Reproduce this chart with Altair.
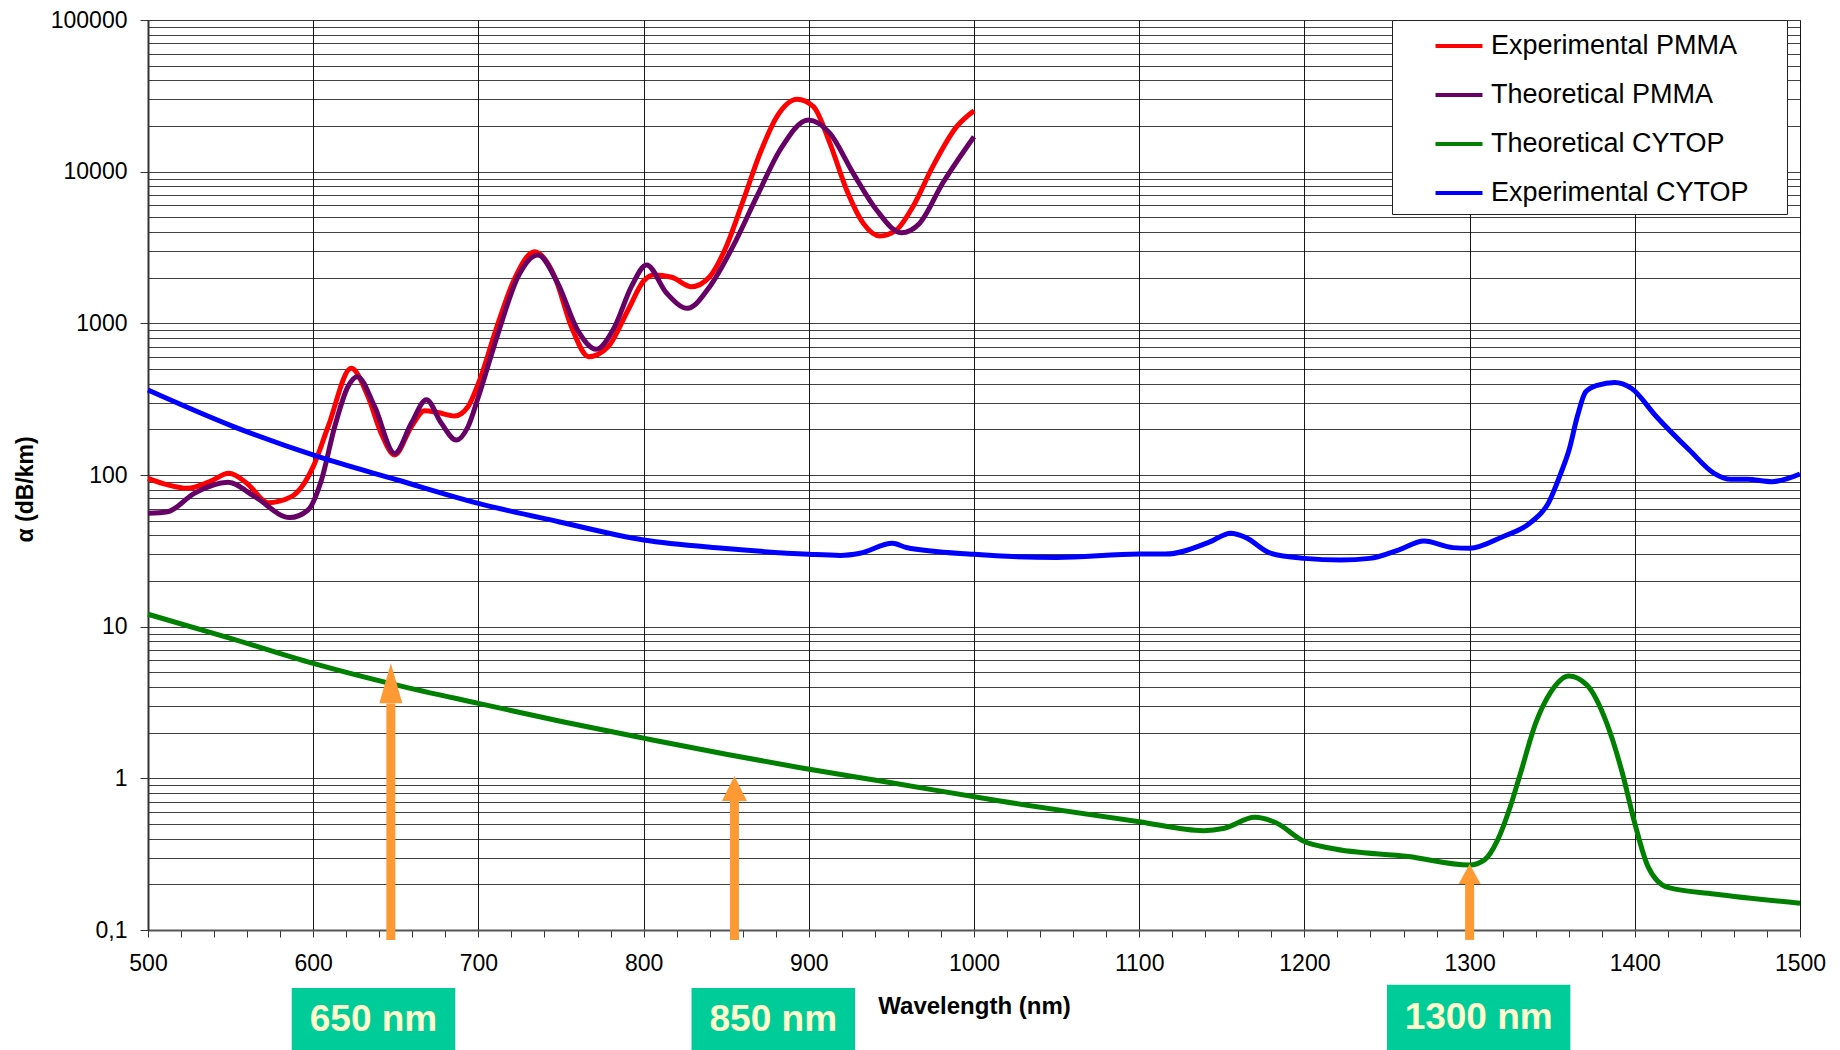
import altair as alt
import pandas as pd

# ---- attenuation curves (wavelength in nm, attenuation in dB/km) ----
exp_pmma_nm = [500, 512, 524, 537, 549, 560, 572.6, 586.8, 600, 609, 623, 633.2, 641.2, 649.3,
               659.4, 667.5, 675.5, 685.6, 693.7, 700, 711.9, 722, 734, 746.2, 756.3, 766.8,
               778.5, 790.6, 800, 806, 817, 829, 840, 850, 860.4, 870.5, 880.6, 893, 902.8,
               912.8, 922.9, 933, 943, 953, 963, 975, 989.5, 1000]
exp_pmma_db = [95, 86, 81.7, 90, 102.6, 88, 65.7, 72, 113.5, 208, 505, 328, 188, 135.5,
               208, 265, 258, 245, 282, 402, 1000, 1982, 2965, 2030, 950, 603,
               701, 1225, 1900, 2084, 2012, 1745, 2030, 3203, 6506, 13220, 23000, 30000, 26850,
               15380, 7570, 4560, 3767, 4124, 5875, 10790, 19800, 25200]

theo_pmma_nm = [500, 512, 528, 548.4, 564.6, 585.8, 596.9, 605, 613, 621, 626.7, 637.2, 649.3,
                659.4, 668.5, 677.6, 686.6, 693.7, 700, 711.9, 724, 736, 748, 760, 771.4,
                782.5, 792.6, 801.8, 814, 826.5, 840, 854, 868.5, 882.6, 899.7, 912.8, 926.9,
                941, 956, 967, 981, 1000]
theo_pmma_db = [55.9, 57.3, 75.7, 89.5, 72, 52.4, 58.8, 92.7, 208, 382, 445, 282, 139,
                219, 313, 219, 170, 208, 328, 859, 2030, 2825, 1837, 904, 674,
                950, 1745, 2424, 1578, 1256, 1745, 3203, 6840, 13900, 21920, 17900, 9750,
                5590, 3960, 4560, 8380, 17000]

theo_cytop_nm = [500, 550, 600, 650.7, 700, 751, 800, 850, 894, 950, 1015.7, 1100, 1139, 1151.6,
                 1170, 1182.5, 1200, 1216, 1263, 1300, 1309, 1317, 1324.6, 1330.8, 1340, 1349.3,
                 1360, 1371, 1383, 1392.5, 1400, 1408, 1420, 1448, 1500]
theo_cytop_db = [12.07, 8.38, 5.73, 4.12, 3.12, 2.36, 1.84, 1.44, 1.18, 0.935, 0.709, 0.518, 0.452,
                 0.469, 0.553, 0.511, 0.383, 0.346, 0.305, 0.268, 0.29, 0.393, 0.65, 1.08, 2.31,
                 3.73, 4.73, 4.12, 2.31, 1.08, 0.505, 0.262, 0.191, 0.173, 0.15]

exp_cytop_nm = [500, 551, 603, 651, 700, 748.5, 800, 848, 900, 919, 931, 950.6, 959, 1000, 1050,
                1100, 1116, 1141.7, 1155.5, 1164.3, 1179.4, 1200, 1222, 1239.6, 1257.3, 1272.3,
                1289.9, 1300, 1320, 1337.6, 1347.6, 1355.2, 1360.2, 1365.2, 1370.3, 1377.8,
                1387.8, 1397.9, 1413, 1433, 1448, 1458, 1468, 1483, 1500]
exp_cytop_db = [363, 210, 132, 92.7, 65, 49.2, 37.3, 32.9, 30, 29.5, 30.5, 35.5, 33.3, 30, 28.6,
                30.1, 30.1, 35.8, 41.3, 38.8, 30.5, 28.2, 27.5, 28.2, 32.1, 36.7,
                33.2, 32.9, 39.2, 49.2, 65, 102.6, 146, 243, 354, 392,
                408, 373, 243, 146, 102.6, 93.7, 93.7, 90.4, 101.6]

SERIES = ["Experimental PMMA", "Theoretical PMMA", "Theoretical CYTOP", "Experimental CYTOP"]
COLORS = ["#FF0000", "#660066", "#008000", "#0000FF"]
WIDTHS = [5, 5, 5, 5]

# ---- transmission windows marked with arrows ----
arrow_nm = [647, 855, 1300]
arrow_tip = [5.73, 1.035, 0.272]
arrow_base = [3.12, 0.713, 0.201]
arrow_foot = [0.086, 0.086, 0.086]

window_label = ["650 nm", "850 nm", "1300 nm"]
window_lo = [587, 829, 1250]
window_hi = [686, 928, 1361]
window_top = [0.0415, 0.0415, 0.0436]
window_bottom = [0.0150, 0.0150, 0.0150]
window_text_y = [0.0255, 0.0255, 0.0262]

ORANGE = "#FF9933"
FONT = "Liberation Sans"

curves = pd.concat(
    [pd.DataFrame({"nm": nm, "db": db, "series": name})
     for name, nm, db in zip(SERIES,
                             [exp_pmma_nm, theo_pmma_nm, theo_cytop_nm, exp_cytop_nm],
                             [exp_pmma_db, theo_pmma_db, theo_cytop_db, exp_cytop_db])],
    ignore_index=True,
)
arrows = pd.DataFrame({"nm": arrow_nm, "tip": arrow_tip, "base": arrow_base, "foot": arrow_foot})
windows = pd.DataFrame({"label": window_label, "lo": window_lo, "hi": window_hi,
                        "top": window_top, "bottom": window_bottom, "ty": window_text_y})

# ---- scales and axes ----
x_scale = alt.Scale(domain=[500, 1500], nice=False, zero=False)
y_scale = alt.Scale(type="log", domain=[0.1, 100000], nice=False)

x_ticks = list(range(500, 1501, 20))
y_ticks = [m * 10.0 ** k for k in range(-1, 5) for m in range(1, 10)] + [100000.0]
is_decade = "abs(log(datum.value) / LN10 - round(log(datum.value) / LN10)) < 1e-6"

x_axis = alt.Axis(
    title="Wavelength (nm)", values=x_ticks,
    labelExpr="datum.value % 100 === 0 ? datum.label : ''",
    format="d", labelOverlap=False, labelFlush=False,
    labelFont=FONT, labelFontSize=23, labelColor="#000", labelPadding=15,
    tickSize=7, tickColor="#333", tickWidth=1,
    grid=True, gridColor="#000", gridWidth=1,
    gridOpacity={"condition": {"test": "datum.value % 100 === 0", "value": 0.9}, "value": 0},
    domainColor="#555", domainWidth=2,
    titleFont=FONT, titleFontSize=24, titleFontWeight="bold", titleColor="#000",
    titleX=826, titleY=76, titleBaseline="middle", titleAlign="center",
)
y_axis = alt.Axis(
    title="α (dB/km)", values=y_ticks,
    labelExpr=f"({is_decade}) ? (datum.value < 1 ? '0,1' : format(datum.value, 'd')) : ''",
    labelOverlap=False, labelFlush=False,
    labelFont=FONT, labelFontSize=23, labelColor="#000", labelPadding=13,
    tickSize=8, tickColor="#333", tickWidth=1,
    tickOpacity={"condition": {"test": is_decade, "value": 1}, "value": 0},
    grid=True, gridColor="#000", gridWidth=1, gridOpacity=0.75,
    domainColor="#333", domainWidth=2,
    titleFont=FONT, titleFontSize=23, titleFontWeight="bold", titleColor="#000",
    titleX=-123, titleY=469, titleAngle=270, titleBaseline="middle", titleAlign="center",
)


def X(field):
    return alt.X(field, type="quantitative", scale=x_scale, axis=x_axis)


def Y(field):
    return alt.Y(field, type="quantitative", scale=y_scale, axis=y_axis)


# legend swatch: a flat line longer than the nominal symbol box;
# a blank right-hand title gives the legend frame its right margin
legend = alt.Legend(
    title="\u00a0", titleOrient="right", titlePadding=30, titleFontSize=10,
    orient="none", legendX=1244, legendY=0, direction="vertical",
    symbolType="M-1.5,0H1.5", symbolSize=981, symbolStrokeWidth=4,
    labelFont=FONT, labelFontSize=27, labelColor="#000", labelOffset=14, labelLimit=500,
    rowPadding=18, padding=8, symbolOffset=41,
    strokeColor="#222", fillColor="#FFFFFF",
)
color = alt.Color("series:N", scale=alt.Scale(domain=SERIES, range=COLORS), legend=legend)

# one layer per series so later series draw on top of earlier ones
curve_layers = [
    alt.Chart(curves)
    .transform_filter(alt.datum.series == name)
    .mark_line(strokeWidth=w, interpolate="monotone")
    .encode(x=X("nm"), y=Y("db"), color=color)
    for name, w in zip(SERIES, WIDTHS)
]

shafts = alt.Chart(arrows).mark_rule(color=ORANGE, strokeWidth=9, strokeCap="butt").encode(
    x=X("nm"), y=Y("foot"), y2=alt.Y2("base")
)


def arrow_head(i, length, half_width):
    unit = length / 2.0
    hw = half_width / unit
    path = f"M0,0L{hw:.3f},2L{-hw:.3f},2Z"
    return (
        alt.Chart(arrows.iloc[[i]])
        .mark_point(shape=path, filled=True, color=ORANGE, opacity=1, strokeWidth=0,
                    size=length ** 2)
        .encode(x=X("nm"), y=Y("tip"))
    )


heads = [arrow_head(0, 40, 11.5), arrow_head(1, 25, 12.5), arrow_head(2, 20, 11)]

boxes = alt.Chart(windows).mark_rect(color="#00CC99").encode(
    x=X("lo"), x2=alt.X2("hi"), y=Y("top"), y2=alt.Y2("bottom")
)
box_text = (
    alt.Chart(windows)
    .transform_calculate(mid="(datum.lo + datum.hi) / 2")
    .mark_text(font=FONT, fontSize=37, fontWeight="bold", color="#FFFFCC",
               align="center", baseline="middle")
    .encode(x=X("mid"), y=Y("ty"), text="label:N")
)

chart = (
    alt.layer(*curve_layers, shafts, *heads, boxes, box_text)
    .properties(
        width=1652, height=910,
        padding={"left": 148, "top": 20, "right": 40, "bottom": 120},
        autosize=alt.AutoSizeParams(type="none"),
        background="#FFFFFF",
    )
    .configure_view(stroke="#888888", strokeWidth=2)
    .configure(font=FONT)
)

chart.save("out.html", embed_options={"renderer": "svg", "actions": False})
